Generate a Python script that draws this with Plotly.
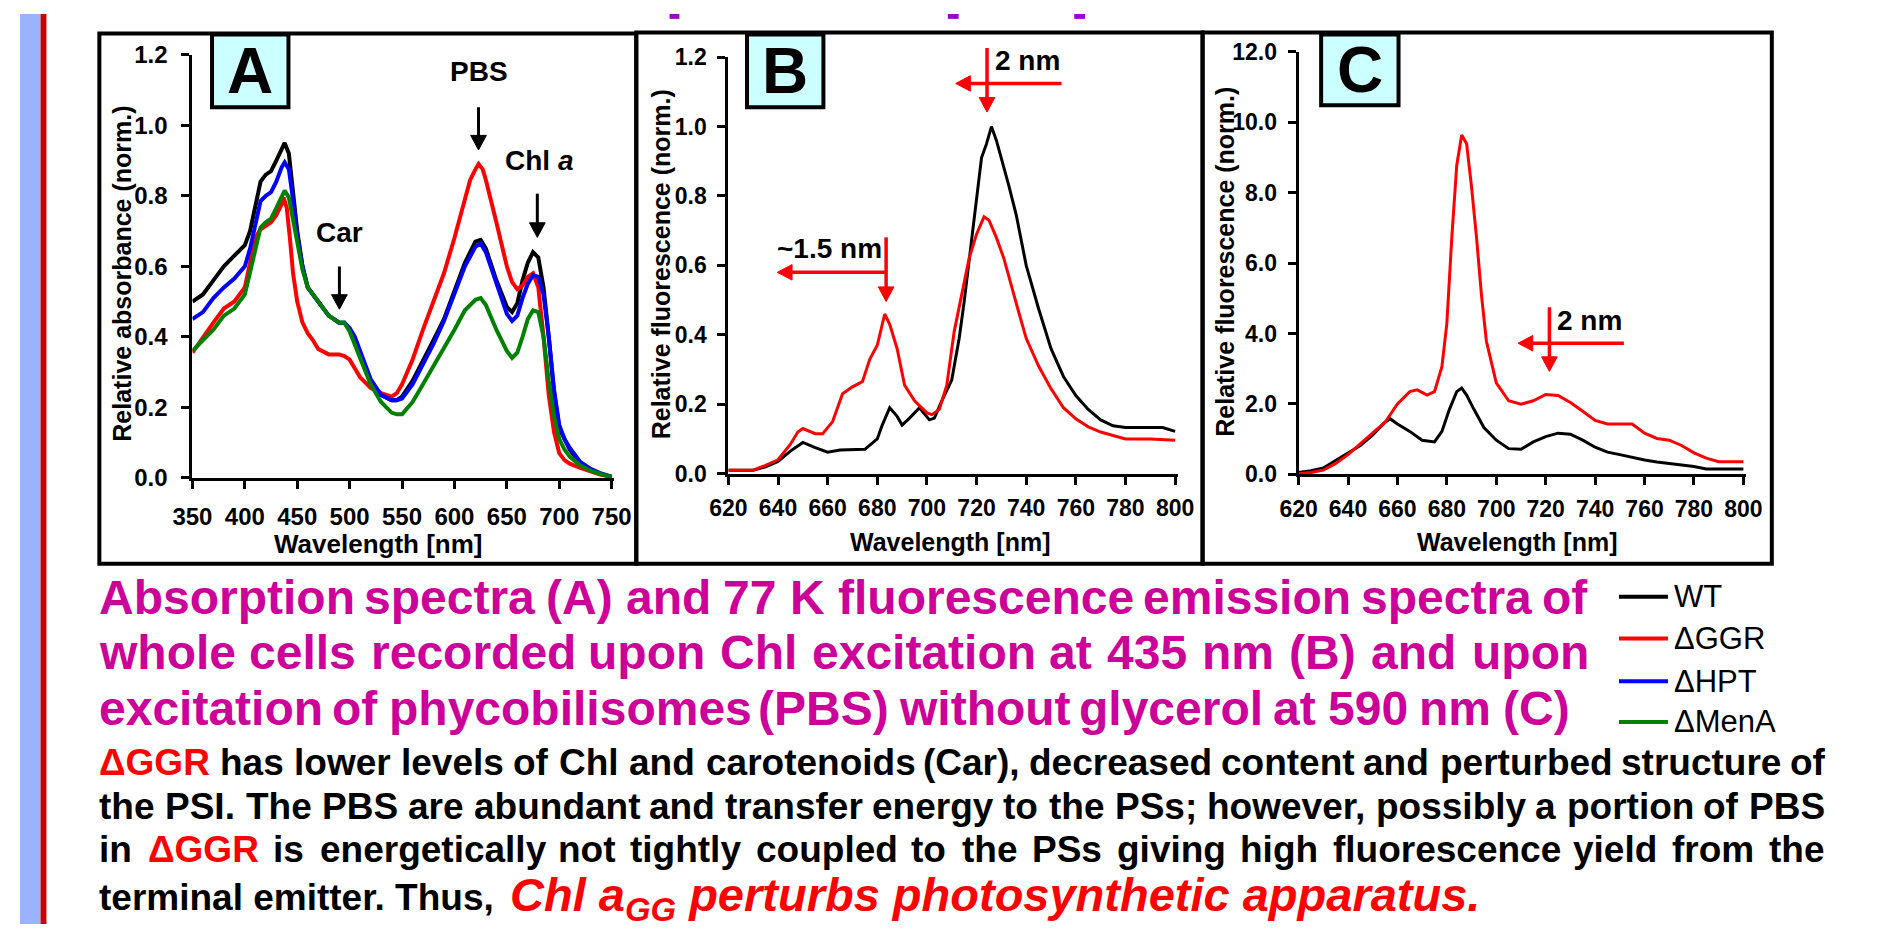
import plotly.graph_objects as go

W, H = 1878, 937
FONT = "Liberation Sans, Arial, Helvetica, sans-serif"

# ---------------- data ----------------
series_names = ["WT", "ΔGGR", "ΔHPT", "ΔMenA"]
series_colors = ["#000000", "#ff0000", "#0000ff", "#008000"]

# Panel A - absorption
absA_wl = [350, 360, 370, 380, 390, 400, 405, 410, 415, 420, 425, 430, 435, 438, 442, 445,
           450, 455, 460, 470, 480, 490, 495, 500, 505, 510, 520, 530, 540, 545, 550, 560,
           570, 580, 590, 600, 610, 620, 625, 630, 640, 650, 655, 660, 665, 670, 675, 680,
           685, 690, 695, 700, 705, 710, 720, 730, 740, 750]
absA_wt = [0.50, 0.52, 0.56, 0.60, 0.63, 0.66, 0.70, 0.765, 0.84, 0.86, 0.87, 0.90, 0.93, 0.95, 0.92, 0.84,
           0.70, 0.60, 0.54, 0.50, 0.46, 0.44, 0.44, 0.42, 0.39, 0.35, 0.275, 0.235, 0.22, 0.22, 0.23, 0.275,
           0.33, 0.39, 0.45, 0.53, 0.61, 0.67, 0.675, 0.65, 0.56, 0.485, 0.47, 0.495, 0.56, 0.61, 0.64, 0.625,
           0.54, 0.40, 0.245, 0.14, 0.107, 0.08, 0.04, 0.022, 0.01, 0.002]
absA_hpt = [0.45, 0.47, 0.51, 0.54, 0.565, 0.60, 0.65, 0.72, 0.785, 0.80, 0.81, 0.84, 0.88, 0.895, 0.875, 0.81,
            0.69, 0.60, 0.54, 0.50, 0.46, 0.44, 0.44, 0.425, 0.40, 0.36, 0.28, 0.235, 0.22, 0.22, 0.225, 0.265,
            0.32, 0.38, 0.445, 0.52, 0.60, 0.655, 0.665, 0.64, 0.55, 0.465, 0.445, 0.46, 0.51, 0.55, 0.575, 0.57,
            0.52, 0.40, 0.25, 0.15, 0.11, 0.085, 0.045, 0.025, 0.012, 0.003]
absA_mena = [0.36, 0.39, 0.42, 0.46, 0.48, 0.52, 0.58, 0.65, 0.71, 0.725, 0.735, 0.765, 0.80, 0.815, 0.795, 0.745,
             0.665, 0.59, 0.54, 0.50, 0.46, 0.44, 0.44, 0.415, 0.38, 0.34, 0.265, 0.215, 0.185, 0.18, 0.18, 0.215,
             0.265, 0.315, 0.37, 0.42, 0.475, 0.505, 0.51, 0.49, 0.42, 0.36, 0.34, 0.355, 0.40, 0.45, 0.475, 0.47,
             0.40, 0.275, 0.175, 0.11, 0.08, 0.06, 0.035, 0.02, 0.01, 0.002]
absA_ggr_wl = [350, 360, 370, 380, 390, 400, 405, 410, 415, 420, 425, 430, 435, 437, 440, 443,
               446, 450, 455, 460, 465, 470, 480, 490, 495, 500, 505, 510, 520, 530, 540, 545,
               550, 560, 570, 580, 590, 600, 610, 615, 620, 623, 627, 630, 640, 650, 655, 660,
               665, 670, 675, 680, 685, 690, 695, 700, 705, 710, 720, 730, 740, 750]
absA_ggr = [0.355, 0.40, 0.44, 0.48, 0.50, 0.54, 0.61, 0.68, 0.705, 0.715, 0.725, 0.745, 0.775, 0.795, 0.765, 0.68,
            0.58, 0.50, 0.44, 0.41, 0.39, 0.365, 0.35, 0.35, 0.345, 0.335, 0.31, 0.285, 0.255, 0.24, 0.23, 0.24,
            0.265, 0.335, 0.42, 0.50, 0.58, 0.68, 0.795, 0.845, 0.875, 0.89, 0.875, 0.845, 0.725, 0.60, 0.555, 0.535,
            0.545, 0.57, 0.58, 0.54, 0.40, 0.235, 0.13, 0.07, 0.05, 0.04, 0.028, 0.018, 0.008, 0.002]

# Panel B - 77 K fluorescence, 435 nm excitation
fluB_wt_wl = [620, 630, 635, 640, 645, 650, 655, 660, 665, 670, 675, 680, 682, 685, 688, 690,
              693, 697, 701, 703, 706, 710, 713, 715, 718, 720, 722, 724, 726, 728, 730, 733,
              736, 740, 745, 750, 755, 760, 765, 770, 775, 780, 790, 795, 800]
fluB_wt = [0.01, 0.01, 0.02, 0.035, 0.065, 0.09, 0.075, 0.062, 0.068, 0.07, 0.07, 0.10, 0.14, 0.19, 0.165, 0.14,
           0.16, 0.19, 0.155, 0.16, 0.21, 0.27, 0.39, 0.495, 0.68, 0.795, 0.91, 0.95, 1.00, 0.96, 0.91, 0.83,
           0.745, 0.60, 0.475, 0.36, 0.28, 0.225, 0.185, 0.155, 0.138, 0.133, 0.133, 0.133, 0.122]
fluB_ggr_wl = [620, 630, 635, 640, 645, 648, 650, 655, 658, 662, 666, 670, 674, 677, 680, 683,
               685, 688, 691, 695, 700, 702, 705, 708, 711, 714, 717, 720, 723, 725, 728, 731,
               734, 737, 740, 745, 750, 755, 760, 765, 770, 775, 780, 790, 800]
fluB_ggr = [0.01, 0.01, 0.024, 0.04, 0.085, 0.12, 0.13, 0.115, 0.115, 0.15, 0.23, 0.25, 0.265, 0.33, 0.37, 0.46,
            0.43, 0.36, 0.255, 0.21, 0.175, 0.17, 0.185, 0.255, 0.41, 0.515, 0.62, 0.69, 0.74, 0.73, 0.68, 0.62,
            0.54, 0.465, 0.39, 0.31, 0.245, 0.19, 0.158, 0.135, 0.12, 0.11, 0.10, 0.10, 0.096]

# Panel C - 77 K fluorescence, 590 nm excitation
fluC_wt_wl = [620, 625, 630, 635, 640, 645, 650, 655, 657, 660, 665, 670, 675, 678, 681, 684,
              686, 688, 691, 695, 700, 705, 710, 715, 720, 725, 730, 735, 740, 745, 750, 755,
              760, 765, 770, 775, 780, 785, 790, 800]
fluC_wt = [0.05, 0.1, 0.18, 0.4, 0.6, 0.82, 1.12, 1.48, 1.58, 1.43, 1.22, 0.97, 0.92, 1.22, 1.84, 2.35,
           2.45, 2.25, 1.84, 1.33, 0.97, 0.73, 0.71, 0.92, 1.07, 1.17, 1.14, 0.97, 0.77, 0.63, 0.56, 0.48,
           0.41, 0.35, 0.31, 0.26, 0.22, 0.15, 0.15, 0.15]
fluC_ggr_wl = [620, 625, 630, 635, 640, 645, 650, 655, 660, 665, 668, 672, 675, 678, 680, 682,
               684, 686, 688, 690, 692, 694, 696, 700, 705, 710, 715, 720, 725, 730, 735, 740,
               745, 750, 755, 760, 765, 770, 775, 780, 785, 790, 800]
fluC_ggr = [0.02, 0.05, 0.12, 0.31, 0.56, 0.87, 1.17, 1.48, 2.0, 2.35, 2.4, 2.25, 2.35, 3.06, 4.29, 6.73,
            8.78, 9.64, 9.39, 8.16, 6.73, 5.1, 3.78, 2.6, 2.09, 1.99, 2.09, 2.27, 2.24, 2.04, 1.79, 1.53,
            1.43, 1.43, 1.43, 1.17, 1.02, 0.97, 0.82, 0.61, 0.46, 0.36, 0.36]

# ticks
tickA_x = [350, 400, 450, 500, 550, 600, 650, 700, 750]
tickA_y = [0.0, 0.2, 0.4, 0.6, 0.8, 1.0, 1.2]
tickA_y_text = ["0.0", "0.2", "0.4", "0.6", "0.8", "1.0", "1.2"]
tickBC_x = [620, 640, 660, 680, 700, 720, 740, 760, 780, 800]
tickB_y = [0.0, 0.2, 0.4, 0.6, 0.8, 1.0, 1.2]
tickB_y_text = ["0.0", "0.2", "0.4", "0.6", "0.8", "1.0", "1.2"]
tickC_y = [0, 2, 4, 6, 8, 10, 12]
tickC_y_text = ["0.0", "2.0", "4.0", "6.0", "8.0", "10.0", "12.0"]

# ---------------- text ----------------
title_lines = [
    "Absorption spectra (A) and 77 K fluorescence emission spectra of",
    "whole cells recorded upon Chl excitation at 435 nm (B) and upon",
    "excitation of phycobilisomes (PBS) without glycerol at 590 nm (C)",
]
para_lines = [
    [("ΔGGR", "red"), ("has lower levels of Chl and carotenoids (Car), decreased content and perturbed structure of", "black")],
    [("the PSI. The PBS are abundant and transfer energy to the PSs; however, possibly a portion of PBS", "black")],
    [("in", "black"), ("ΔGGR", "red"), ("is energetically not tightly coupled to the PSs giving high fluorescence yield from the", "black")],
]
para_last_black = "terminal emitter. Thus,"
para_last_red = "<i>Chl a<sub>GG</sub> perturbs photosynthetic apparatus.</i>"

# ---------------- helpers ----------------
BOLD_W = {' ': 278, '!': 333, '(': 333, ')': 333, ',': 278, '.': 278, ';': 333, '~': 584,
          '[': 333, ']': 333, 'Δ': 720}
for c in "0123456789":
    BOLD_W[c] = 556
BOLD_W.update(dict(A=722, B=722, C=722, D=722, E=667, F=611, G=778, H=722, I=278, J=556, K=722,
                   L=611, M=833, N=722, O=778, P=667, Q=778, R=722, S=667, T=611, U=722, V=667,
                   W=944, X=667, Y=667, Z=611))
BOLD_W.update(dict(a=556, b=611, c=556, d=611, e=556, f=333, g=611, h=611, i=278, j=278, k=556,
                   l=278, m=889, n=611, o=611, p=611, q=611, r=389, s=556, t=333, u=611, v=556,
                   w=778, x=556, y=556, z=500))


def tw(s, fs):
    return sum(BOLD_W.get(ch, 556) for ch in s) * fs / 1000.0


def px(x):
    return x / W


def py(y):
    return 1 - y / H


annotations = []
shapes = []


def txt(x, y, text, size, color="black", bold=True, xanchor="center", yanchor="middle",
        angle=0, italic=False):
    annotations.append(dict(
        x=px(x), y=py(y), xref="paper", yref="paper", text=text, showarrow=False,
        xanchor=xanchor, yanchor=yanchor, textangle=angle, borderpad=0, borderwidth=0,
        font=dict(family=FONT, size=size, color=color,
                  weight="bold" if bold else "normal",
                  style="italic" if italic else "normal")))


def justified(segments, x0, x1, baseline, fs, justify=True):
    words = []
    for seg, col in segments:
        for wd in seg.split(" "):
            words.append((wd, col))
    widths = [tw(wd, fs) for wd, _ in words]
    if justify and len(words) > 1:
        gap = (x1 - x0 - sum(widths)) / (len(words) - 1)
    else:
        gap = tw(" ", fs)
    x = x0
    top = baseline - 0.905 * fs
    for (wd, col), w in zip(words, widths):
        txt(x, top, wd, fs, color=col, xanchor="left", yanchor="top")
        x += w + gap


def rect(x0, y0, x1, y1, fill=None, line=None, lw=0, layer="above"):
    shapes.append(dict(type="rect", xref="paper", yref="paper",
                       x0=px(x0), x1=px(x1), y0=py(y0), y1=py(y1),
                       fillcolor=fill if fill else "rgba(0,0,0,0)",
                       line=dict(color=line if line else "rgba(0,0,0,0)", width=lw),
                       layer=layer))


def arrow(x0, y0, x1, y1, color, lw=3, hl=15, hw=16):
    dx, dy = x1 - x0, y1 - y0
    L = (dx * dx + dy * dy) ** 0.5
    ux, uy = dx / L, dy / L
    bx, by = x1 - ux * hl, y1 - uy * hl
    nx, ny = -uy, ux
    shapes.append(dict(type="line", xref="paper", yref="paper",
                       x0=px(x0), y0=py(y0), x1=px(bx + ux * 2), y1=py(by + uy * 2),
                       line=dict(color=color, width=lw), layer="above"))
    p1 = (bx + nx * hw / 2, by + ny * hw / 2)
    p2 = (bx - nx * hw / 2, by - ny * hw / 2)
    path = "M {} {} L {} {} L {} {} Z".format(px(x1), py(y1), px(p1[0]), py(p1[1]),
                                              px(p2[0]), py(p2[1]))
    shapes.append(dict(type="path", xref="paper", yref="paper", path=path,
                       fillcolor=color, line=dict(color=color, width=1), layer="above"))


# ---------------- figure ----------------
fig = go.Figure()

# panel A traces (order WT, GGR, HPT, MenA)
fig.add_trace(go.Scatter(x=absA_wl, y=absA_wt, mode="lines", name=series_names[0],
                         line=dict(color=series_colors[0], width=4), xaxis="x", yaxis="y"))
fig.add_trace(go.Scatter(x=absA_ggr_wl, y=absA_ggr, mode="lines", name=series_names[1],
                         line=dict(color=series_colors[1], width=4), xaxis="x", yaxis="y"))
fig.add_trace(go.Scatter(x=absA_wl, y=absA_hpt, mode="lines", name=series_names[2],
                         line=dict(color=series_colors[2], width=4), xaxis="x", yaxis="y"))
fig.add_trace(go.Scatter(x=absA_wl, y=absA_mena, mode="lines", name=series_names[3],
                         line=dict(color=series_colors[3], width=4), xaxis="x", yaxis="y"))
# panel B
fig.add_trace(go.Scatter(x=fluB_wt_wl, y=fluB_wt, mode="lines", name=series_names[0],
                         line=dict(color=series_colors[0], width=3), xaxis="x2", yaxis="y2"))
fig.add_trace(go.Scatter(x=fluB_ggr_wl, y=fluB_ggr, mode="lines", name=series_names[1],
                         line=dict(color=series_colors[1], width=3), xaxis="x2", yaxis="y2"))
# panel C
fig.add_trace(go.Scatter(x=fluC_wt_wl, y=fluC_wt, mode="lines", name=series_names[0],
                         line=dict(color=series_colors[0], width=3), xaxis="x3", yaxis="y3"))
fig.add_trace(go.Scatter(x=fluC_ggr_wl, y=fluC_ggr, mode="lines", name=series_names[1],
                         line=dict(color=series_colors[1], width=3), xaxis="x3", yaxis="y3"))


def xax(x0, x1, rng, tickvals, fs, standoff, anchor):
    return dict(domain=[px(x0), px(x1)], range=rng, tickvals=tickvals,
                ticktext=[str(v) for v in tickvals], anchor=anchor,
                showline=True, linecolor="black", linewidth=3, ticks="outside", ticklen=8,
                tickwidth=3, tickcolor="black", showgrid=False, zeroline=False,
                ticklabelstandoff=standoff, fixedrange=True,
                tickfont=dict(family=FONT, size=fs, color="black", weight="bold"))


def yax(top, bottom, rng, tickvals, ticktext, fs, standoff, anchor):
    return dict(domain=[py(bottom), py(top)], range=rng, tickvals=tickvals,
                ticktext=ticktext, anchor=anchor,
                showline=True, linecolor="black", linewidth=3, ticks="outside", ticklen=8,
                tickwidth=3, tickcolor="black", showgrid=False, zeroline=False,
                ticklabelstandoff=standoff, fixedrange=True,
                tickfont=dict(family=FONT, size=fs, color="black", weight="bold"))


fig.update_layout(
    xaxis=xax(176, 606, [350, 752], tickA_x, 24, 7, "y"),
    yaxis=yax(42, 477.5, [0, 1.2], tickA_y, tickA_y_text, 24, 9, "x"),
    xaxis2=xax(723, 1181.5, [620, 801], tickBC_x, 23, 4, "y2"),
    yaxis2=yax(44.4, 473.3, [0, 1.2], tickB_y, tickB_y_text, 23, 6, "x2"),
    xaxis3=xax(1305, 1761.5, [620, 801], tickBC_x, 23, 4, "y3"),
    yaxis3=yax(39, 474, [0, 12], tickC_y, tickC_y_text, 23, 6, "x3"),
)

# left stripes
rect(0, 0, 21, H, fill="#99b3ff", layer="below")
rect(21, 0, 27, H, fill="#cc0000", layer="below")
# purple remnants of a cropped heading
for a, b in [(663, 673), (947, 958), (1076, 1087)]:
    rect(a, 0, b, 5, fill="#9900cc", layer="below")

# panel frames
rect(81, 20, 629, 566, line="black", lw=4)
rect(629, 19, 1207, 566, line="black", lw=4)
rect(1207, 19, 1788, 566, line="black", lw=4)
# panel label boxes
rect(196, 21, 274, 96, fill="#ccffff", line="black", lw=4)
rect(742, 21, 820, 96, fill="#ccffff", line="black", lw=4)
rect(1328, 21, 1407, 94, fill="#ccffff", line="black", lw=4)
txt(235, 59, "A", 64)
txt(781, 59, "B", 64)
txt(1367.5, 58, "C", 64)

# axis titles
txt(365, 546, "Wavelength [nm]", 26)
txt(949, 544, "Wavelength [nm]", 25)
txt(1528, 544, "Wavelength [nm]", 25)
txt(104, 267.5, "Relative absorbance (norm.)", 25, angle=-90)
txt(654, 258, "Relative fluorescence (norm.)", 25, angle=-90)
txt(1230, 255, "Relative fluorescence (norm.)", 25, angle=-90)

# panel A annotations
txt(468, 59, "PBS", 28)
arrow(468, 96, 468, 140, "black")
txt(530, 151, "Chl <i>a</i>", 28)
arrow(528, 185, 528, 230, "black")
txt(326, 225, "Car", 28)
arrow(326, 260, 326, 304, "black")

# panel B annotations
RED = "#ff0000"
txt(1028, 48, "2 nm", 28)
arrow(987, 35, 987, 101, RED, lw=3.5)
arrow(1063, 71.5, 955, 71.5, RED, lw=3.5)
txt(826, 241, "~1.5 nm", 28)
arrow(884, 230, 884, 296, RED, lw=3.5)
arrow(884, 266, 773, 266, RED, lw=3.5)

# panel C annotations
txt(1602, 316, "2 nm", 28)
arrow(1561, 302, 1561, 368, RED, lw=3.5)
arrow(1637, 339, 1529, 339, RED, lw=3.5)

# legend (manual)
for i, (nm, col) in enumerate(zip(series_names, series_colors)):
    yy = [600, 643, 687, 729][i]
    shapes.append(dict(type="line", xref="paper", yref="paper", x0=px(1632), x1=px(1682),
                       y0=py(yy), y1=py(yy), line=dict(color=col, width=4)))
    txt(1688, yy, nm, 31, bold=False, xanchor="left")

# caption title (magenta, justified)
MAG = "#cc0099"
for k, line in enumerate(title_lines):
    justified([(line, MAG)], 81, 1599, [617, 674, 731][k], 48, justify=(k < 2))

# paragraph
for k, segs in enumerate(para_lines):
    justified(segs, 81, 1841, [783, 828, 873][k], 37)
txt(81, 922 - 0.905 * 37, para_last_black, 37, xanchor="left", yanchor="top")
txt(500, 922 - 0.905 * 47, para_last_red, 47, color=RED, xanchor="left", yanchor="top")

fig.update_layout(
    width=W, height=H, autosize=False,
    margin=dict(l=0, r=0, t=0, b=0),
    paper_bgcolor="white", plot_bgcolor="white",
    showlegend=False,
    annotations=annotations, shapes=shapes,
)

fig.write_html(
    "out.html",
    post_script="document.body.style.margin='0px';document.body.style.padding='0px';"
                "document.documentElement.style.overflow='hidden';",
)
